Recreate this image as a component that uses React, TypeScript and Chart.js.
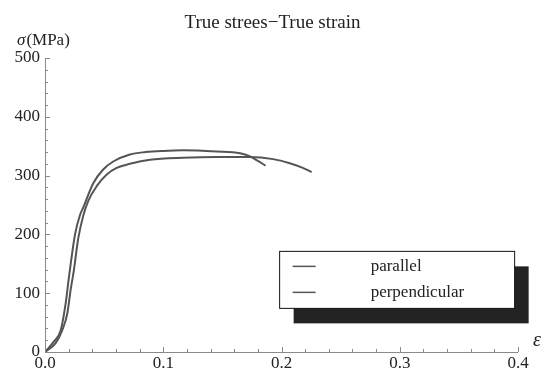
import React, { useEffect, useRef } from "react";
import { Chart, registerables } from "chart.js";

Chart.register(...registerables);

const TITLE = "True strees\u2212True strain";
const Y_LABEL_SYM = "\u03c3";
const Y_LABEL_UNIT = "(MPa)";
const X_LABEL = "\u03b5";

const SERIES_NAMES = ["parallel", "perpendicular"];

const parallelStrain = [0, 0.0076, 0.0133, 0.0175, 0.0203, 0.0254, 0.0296, 0.0324, 0.0408, 0.049, 0.0577, 0.0718, 0.085, 0.1, 0.117, 0.145, 0.165, 0.173, 0.18, 0.1865];
const parallelStress = [0, 18, 37, 83, 128, 200, 233, 246, 287, 310, 324, 336, 340, 342, 343, 341, 338, 333, 325, 317];

const perpStrain = [0, 0.009, 0.0146, 0.0189, 0.0217, 0.0245, 0.028, 0.0324, 0.0366, 0.0437, 0.052, 0.0606, 0.0718, 0.0888, 0.117, 0.145, 0.173, 0.193, 0.207, 0.217, 0.2255];
const perpStress = [0, 15, 37, 66, 106, 140, 192, 232, 257, 282, 301.5, 313, 320, 327, 330.5, 331.7, 331.7, 328, 321, 314, 306];

const X_MIN = 0, X_MAX = 0.4, X_STEP = 0.1, X_MINOR = 0.02;
const Y_MIN = 0, Y_MAX = 500, Y_STEP = 100, Y_MINOR = 20;

const LINE_COLOR = "#555555";
const AXIS_COLOR = "#8a8a8a";
const TEXT_COLOR = "#222";
const SERIF = "'Liberation Serif', 'DejaVu Serif', serif";

const toPts = (xs: number[], ys: number[]) => xs.map((x, i) => ({ x, y: ys[i] }));

const decorPlugin = {
  id: "decor",
  afterDraw(chart: any) {
    const ctx = chart.ctx as CanvasRenderingContext2D;
    const ca = chart.chartArea;
    const xs = chart.scales.x;
    const ys = chart.scales.y;
    ctx.save();
    // axes
    ctx.strokeStyle = AXIS_COLOR;
    ctx.lineWidth = 1;
    ctx.beginPath();
    ctx.moveTo(ca.left + 0.5, ca.bottom + 0.5);
    ctx.lineTo(ca.right, ca.bottom + 0.5);
    ctx.moveTo(ca.left + 0.5, ca.bottom + 0.5);
    ctx.lineTo(ca.left + 0.5, ca.top);
    for (let v = X_MIN; v <= X_MAX + 1e-9; v += X_MINOR) {
      const major = Math.abs(v / X_STEP - Math.round(v / X_STEP)) < 1e-6;
      const px = Math.round(xs.getPixelForValue(v)) + 0.5;
      ctx.moveTo(px, ca.bottom);
      ctx.lineTo(px, ca.bottom - (major ? 5 : 3));
    }
    for (let v = Y_MIN; v <= Y_MAX + 1e-9; v += Y_MINOR) {
      const major = Math.abs(v / Y_STEP - Math.round(v / Y_STEP)) < 1e-6;
      const py = Math.round(ys.getPixelForValue(v)) + 0.5;
      ctx.moveTo(ca.left, py);
      ctx.lineTo(ca.left + (major ? 5 : 3), py);
    }
    ctx.stroke();

    // title
    ctx.fillStyle = TEXT_COLOR;
    ctx.textBaseline = "middle";
    ctx.textAlign = "center";
    ctx.font = `19px ${SERIF}`;
    ctx.fillText(TITLE, 272.5, ca.top - 35);

    // y label
    ctx.textAlign = "left";
    ctx.font = `italic 17px ${SERIF}`;
    const sx = ca.left - 28;
    const sy = ca.top - 17;
    ctx.fillText(Y_LABEL_SYM, sx, sy);
    const w = ctx.measureText(Y_LABEL_SYM).width;
    ctx.font = `17px ${SERIF}`;
    ctx.fillText(Y_LABEL_UNIT, sx + w + 1, sy);

    // x label
    ctx.font = `italic 20px ${SERIF}`;
    ctx.fillText(X_LABEL, ca.right + 15, ca.bottom - 11);

    // legend
    const bx = xs.getPixelForValue(0.198) + 0.5;
    const by = ys.getPixelForValue(172) + 0.5;
    const bw = 235, bh = 57;
    ctx.fillStyle = "#222";
    ctx.fillRect(bx + 14, by + 15, bw, bh);
    ctx.fillStyle = "#fff";
    ctx.fillRect(bx, by, bw, bh);
    ctx.strokeStyle = "#111";
    ctx.lineWidth = 1;
    ctx.strokeRect(bx, by, bw, bh);
    const ds = chart.data.datasets;
    ds.forEach((d: any, i: number) => {
      const ly = by + 15 + i * 26;
      ctx.strokeStyle = d.borderColor;
      ctx.lineWidth = 1.5;
      ctx.beginPath();
      ctx.moveTo(bx + 13, ly);
      ctx.lineTo(bx + 36, ly);
      ctx.stroke();
      ctx.fillStyle = TEXT_COLOR;
      ctx.font = `17px ${SERIF}`;
      ctx.textAlign = "left";
      ctx.fillText(d.label, bx + 91, ly);
    });
    ctx.restore();
  },
};

export default function App() {
  const ref = useRef<HTMLCanvasElement>(null);
  useEffect(() => {
    const canvas = ref.current!;
    const mk = (label: string, xs: number[], ys: number[]) => ({
      label,
      data: toPts(xs, ys),
      borderColor: LINE_COLOR,
      backgroundColor: LINE_COLOR,
      borderWidth: 2,
      pointRadius: 0,
      cubicInterpolationMode: "monotone" as const,
      fill: false,
    });
    const chart = new Chart(canvas, {
      type: "line",
      data: {
        datasets: [
          mk(SERIES_NAMES[0], parallelStrain, parallelStress),
          mk(SERIES_NAMES[1], perpStrain, perpStress),
        ],
      },
      options: {
        animation: false,
        responsive: false,
        devicePixelRatio: 1,
        layout: { padding: { top: 58, left: 0, right: 26, bottom: 0 } },
        plugins: { legend: { display: false }, tooltip: { enabled: false }, title: { display: false } },
        scales: {
          x: {
            type: "linear",
            min: X_MIN,
            max: X_MAX,
            grid: { display: false, drawTicks: false },
            border: { display: false },
            ticks: {
              stepSize: X_STEP,
              padding: 1,
              maxRotation: 0,
              color: TEXT_COLOR,
              font: { family: SERIF, size: 17 },
              callback: (v: any) => Number(v).toFixed(1),
            },
            afterFit: (s: any) => { s.height = 28; },
          },
          y: {
            type: "linear",
            min: Y_MIN,
            max: Y_MAX,
            grid: { display: false, drawTicks: false },
            border: { display: false },
            ticks: {
              stepSize: Y_STEP,
              padding: 5,
              color: TEXT_COLOR,
              font: { family: SERIF, size: 17 },
            },
            afterFit: (s: any) => { s.width = 45; },
          },
        },
      },
      plugins: [decorPlugin],
    });
    return () => chart.destroy();
  }, []);
  return (
    <div style={{ position: "absolute", left: 0, top: 0, width: 544, height: 380, background: "#fff" }}>
      <canvas ref={ref} width={544} height={380} style={{ display: "block" }} />
    </div>
  );
}
